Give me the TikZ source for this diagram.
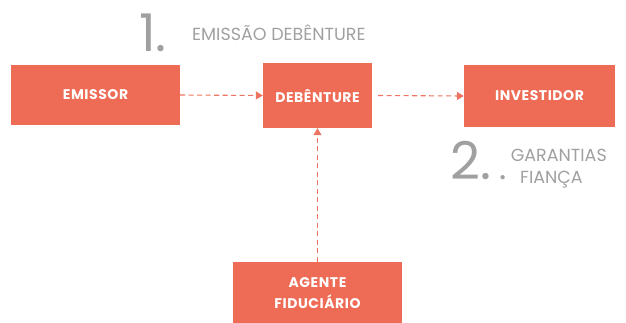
\documentclass[tikz,border=0pt]{standalone}
\usepackage{fontspec}
\setmainfont{Poppins}
\usetikzlibrary{arrows.meta}
\definecolor{coral}{HTML}{EE6B55}
\definecolor{arrowc}{HTML}{EC7461}
\definecolor{graytxt}{HTML}{A0A0A0}
\tikzset{
  box/.style={fill=coral, draw=none, inner sep=0pt, text=white,
    font=\fontsize{14}{21}\selectfont\bfseries\addfontfeature{LetterSpace=4}, align=center},
  conn/.style={draw=arrowc, line width=1.1pt, dash pattern=on 5pt off 3.5pt,
    -{Triangle[width=8pt,length=7pt]}},
  bignum/.style={text=graytxt, inner sep=0pt, font=\fontsize{52}{52}\selectfont},
  label/.style={text=graytxt, inner sep=0pt, font=\fontsize{17.5}{20}\selectfont}
}
\begin{document}
\begin{tikzpicture}[x=1pt,y=-1pt]
\useasboundingbox (0,0) rectangle (626,323);
\node[box, minimum width=169pt, minimum height=60pt] (emissor) at (95.5,95) {EMISSOR};
\node[box, minimum width=109pt, minimum height=65pt] (deb) at (317.5,95.5) {DEBÊNTURE};
\node[box, minimum width=151pt, minimum height=62pt] (inv) at (539.5,96) {INVESTIDOR};
\node[box, minimum width=169pt, minimum height=62pt] (agente) at (317.5,293) {AGENTE\\FIDUCIÁRIO};
\draw[conn] (emissor.east) -- (deb.west);
\draw[conn] ([xshift=6pt]deb.east) -- (inv.west);
\draw[conn] (agente.north) -- (deb.south);
\node[bignum, anchor=base west] (one) at (139,52) {1.};
\node[label, anchor=base west] (t1) at (192,41) {EMISSÃO DEBÊNTURE};
\node[bignum, anchor=base west] (two) at (450,180) {2.};
\node[label, anchor=base east] (t2) at (607,162) {GARANTIAS};
\node[label, anchor=base west] (b2) at (499,183) {•};
\node[label, anchor=base west] (t3) at (520,184) {FIANÇA};
\end{tikzpicture}
\end{document}
